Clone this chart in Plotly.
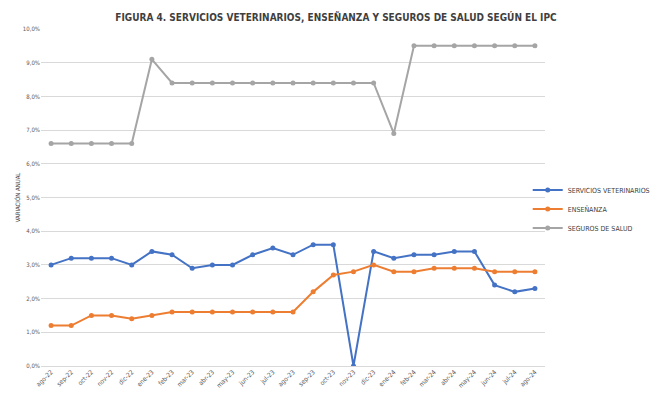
import plotly.graph_objects as go

months = ["ago-22", "sep-22", "oct-22", "nov-22", "dic-22", "ene-23", "feb-23", "mar-23",
          "abr-23", "may-23", "jun-23", "jul-23", "ago-23", "sep-23", "oct-23", "nov-23",
          "dic-23", "ene-24", "feb-24", "mar-24", "abr-24", "may-24", "jun-24", "jul-24", "ago-24"]

veterinarios = [3.0, 3.2, 3.2, 3.2, 3.0, 3.4, 3.3, 2.9, 3.0, 3.0, 3.3, 3.5, 3.3, 3.6, 3.6, 0.0,
                3.4, 3.2, 3.3, 3.3, 3.4, 3.4, 2.4, 2.2, 2.3]
ensenanza = [1.2, 1.2, 1.5, 1.5, 1.4, 1.5, 1.6, 1.6, 1.6, 1.6, 1.6, 1.6, 1.6, 2.2, 2.7, 2.8,
             3.0, 2.8, 2.8, 2.9, 2.9, 2.9, 2.8, 2.8, 2.8]
seguros = [6.6, 6.6, 6.6, 6.6, 6.6, 9.1, 8.4, 8.4, 8.4, 8.4, 8.4, 8.4, 8.4, 8.4, 8.4, 8.4,
           8.4, 6.9, 9.5, 9.5, 9.5, 9.5, 9.5, 9.5, 9.5]

series = [
    ("SERVICIOS VETERINARIOS", veterinarios, "#4472C4"),
    ("ENSEÑANZA", ensenanza, "#ED7D31"),
    ("SEGUROS DE SALUD", seguros, "#A5A5A5"),
]

font_fam = "Liberation Sans Narrow, Arial Narrow, DejaVu Sans Condensed, Liberation Sans, sans-serif"

fig = go.Figure()
for name, vals, color in series:
    fig.add_trace(go.Scatter(
        x=months, y=vals, name=name, mode="lines+markers",
        line=dict(color=color, width=2),
        marker=dict(color=color, size=5),
    ))

fig.update_layout(
    width=668, height=396,
    margin=dict(l=41, r=123, t=29, b=30, autoexpand=False),
    paper_bgcolor="white", plot_bgcolor="white",
    separators=",.",
    font=dict(family=font_fam, color="#595959", size=6),
    title=dict(
        text="<b>FIGURA 4. SERVICIOS VETERINARIOS, ENSEÑANZA Y SEGUROS DE SALUD SEGÚN EL IPC</b>",
        x=0.503, xanchor="center", y=0.957, yanchor="middle",
        font=dict(family=font_fam, size=10, color="#3F3F3F"),
    ),
    showlegend=True,
    legend=dict(
        xref="container", yref="container",
        x=0.79, xanchor="left", y=0.472, yanchor="middle",
        font=dict(size=7, color="#404040"),
        itemwidth=30, tracegroupgap=0,
        bgcolor="rgba(0,0,0,0)",
    ),
    xaxis=dict(
        type="category", range=[-0.5, 24.5], tickangle=-45, showgrid=False, automargin=False,
        showline=False, ticks="", tickfont=dict(size=6.5, color="#595959"),
    ),
    yaxis=dict(
        range=[0, 10], dtick=1, tickformat=".1f", ticksuffix="%", automargin=False,
        showgrid=True, gridcolor="#D9D9D9", gridwidth=1,
        zeroline=True, zerolinecolor="#D9D9D9", zerolinewidth=1,
        showline=False, ticks="", tickfont=dict(size=6, color="#595959"),
        title=dict(text="VARIACIÓN ANUAL", font=dict(size=6, color="#404040"), standoff=1),
    ),
)

fig.write_html("out.html", config={"displayModeBar": False},
               post_script="document.body.style.margin='0';")
